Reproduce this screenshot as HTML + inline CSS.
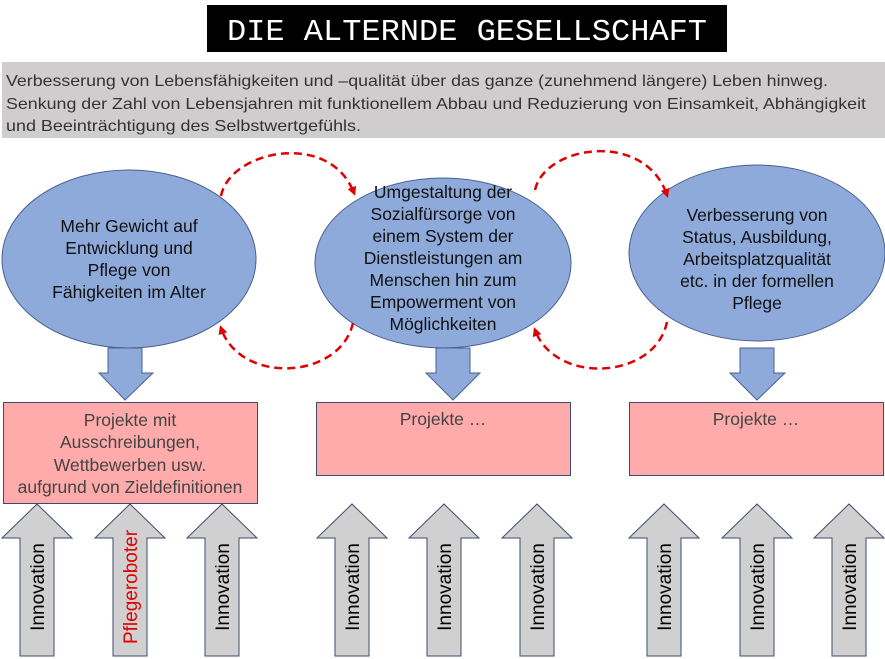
<!DOCTYPE html>
<html><head><meta charset="utf-8"><style>
html,body{margin:0;padding:0;background:#fff;}
svg{display:block;}
text{font-family:"Liberation Sans",sans-serif;}
</style></head><body>
<svg width="885" height="659" viewBox="0 0 885 659" xmlns="http://www.w3.org/2000/svg">
<defs>
<marker id="ah" markerWidth="9" markerHeight="9" refX="6" refY="4.5" orient="auto" markerUnits="userSpaceOnUse">
<path d="M0,0 L9,4.5 L0,9 z" fill="#e00000"/>
</marker>
</defs>
<rect x="207" y="5" width="520" height="47" fill="#000"/>
<text x="467" y="40" text-anchor="middle" fill="#fff" style="font-family:'Liberation Mono',monospace" font-size="31" textLength="480" lengthAdjust="spacingAndGlyphs">DIE ALTERNDE GESELLSCHAFT</text>
<rect x="2" y="62" width="883" height="76" fill="#cfcdce"/>
<g font-size="16" fill="#333">
<text x="6" y="86" textLength="822" lengthAdjust="spacingAndGlyphs">Verbesserung von Lebensfähigkeiten und –qualität über das ganze (zunehmend längere) Leben hinweg.</text>
<text x="6" y="109" textLength="860" lengthAdjust="spacingAndGlyphs">Senkung der Zahl von Lebensjahren mit funktionellem Abbau und Reduzierung von Einsamkeit, Abhängigkeit</text>
<text x="6" y="131" textLength="355" lengthAdjust="spacingAndGlyphs">und Beeinträchtigung des Selbstwertgefühls.</text>
</g>
<g fill="#8eaadb" stroke="#4a6090" stroke-width="1">
<ellipse cx="129" cy="259" rx="127" ry="89"/>
<ellipse cx="443" cy="263" rx="128" ry="85"/>
<ellipse cx="757" cy="253" rx="128" ry="88"/>
<path d="M108,348 H142 V373 H153 L125,400 L99,373 H108 Z"/>
<path d="M436,348 H470 V373 H480 L453,400 L426,373 H436 Z"/>
<path d="M740,348 H774 V373 H785 L757,400 L730,373 H740 Z"/>
</g>
<g fill="none" stroke="#e00000" stroke-width="2.5" stroke-dasharray="8,5">
<path d="M221,196 C230,150 330,130 354,193" marker-end="url(#ah)"/>
<path d="M353,323 C340,380 240,385 221,328" marker-end="url(#ah)"/>
<path d="M535,190 C545,145 645,130 667,195" marker-end="url(#ah)"/>
<path d="M667,322 C655,380 555,385 535,330" marker-end="url(#ah)"/>
</g>
<g font-size="17.5" fill="#111" text-anchor="middle">
<text x="129" y="232">Mehr Gewicht auf</text>
<text x="129" y="254">Entwicklung und</text>
<text x="129" y="276">Pflege von</text>
<text x="129" y="298">Fähigkeiten im Alter</text>
<text x="443" y="198">Umgestaltung der</text>
<text x="443" y="220">Sozialfürsorge von</text>
<text x="443" y="242">einem System der</text>
<text x="443" y="264">Dienstleistungen am</text>
<text x="443" y="286">Menschen hin zum</text>
<text x="443" y="308">Empowerment von</text>
<text x="443" y="330">Möglichkeiten</text>
<text x="757" y="221">Verbesserung von</text>
<text x="757" y="243">Status, Ausbildung,</text>
<text x="757" y="265">Arbeitsplatzqualität</text>
<text x="757" y="287">etc. in der formellen</text>
<text x="757" y="309">Pflege</text>
</g>
<g fill="#ffabab" stroke="#404a70" stroke-width="1">
<rect x="3.5" y="402.5" width="254" height="101"/>
<rect x="316.5" y="402.5" width="254" height="73"/>
<rect x="629.5" y="402.5" width="254" height="73"/>
</g>
<g font-size="17.5" fill="#444" text-anchor="middle">
<text x="130" y="426">Projekte mit</text>
<text x="130" y="448">Ausschreibungen,</text>
<text x="130" y="471">Wettbewerben usw.</text>
<text x="130" y="493">aufgrund von Zieldefinitionen</text>
<text x="443" y="425">Projekte …</text>
<text x="756" y="425">Projekte …</text>
</g>
<g fill="#d0d0d0" stroke="#404a70" stroke-width="1">
<path d="M-17,656 V538 H-35 L0,504 L35,538 H17 V656 Z" transform="translate(37,0)"/>
<path d="M-17,656 V538 H-35 L0,504 L35,538 H17 V656 Z" transform="translate(130,0)"/>
<path d="M-17,656 V538 H-35 L0,504 L35,538 H17 V656 Z" transform="translate(222,0)"/>
<path d="M-17,656 V538 H-35 L0,504 L35,538 H17 V656 Z" transform="translate(352,0)"/>
<path d="M-17,656 V538 H-35 L0,504 L35,538 H17 V656 Z" transform="translate(444,0)"/>
<path d="M-17,656 V538 H-35 L0,504 L35,538 H17 V656 Z" transform="translate(537,0)"/>
<path d="M-17,656 V538 H-35 L0,504 L35,538 H17 V656 Z" transform="translate(664,0)"/>
<path d="M-17,656 V538 H-35 L0,504 L35,538 H17 V656 Z" transform="translate(757,0)"/>
<path d="M-17,656 V538 H-35 L0,504 L35,538 H17 V656 Z" transform="translate(849,0)"/>
</g>
<g font-size="19" fill="#000" text-anchor="middle">
<text transform="translate(44,587) rotate(-90)">Innovation</text>
<text transform="translate(137,587) rotate(-90)" fill="#e00000">Pflegeroboter</text>
<text transform="translate(229,587) rotate(-90)">Innovation</text>
<text transform="translate(359,587) rotate(-90)">Innovation</text>
<text transform="translate(451,587) rotate(-90)">Innovation</text>
<text transform="translate(544,587) rotate(-90)">Innovation</text>
<text transform="translate(671,587) rotate(-90)">Innovation</text>
<text transform="translate(764,587) rotate(-90)">Innovation</text>
<text transform="translate(856,587) rotate(-90)">Innovation</text>
</g>
</svg>
</body></html>
